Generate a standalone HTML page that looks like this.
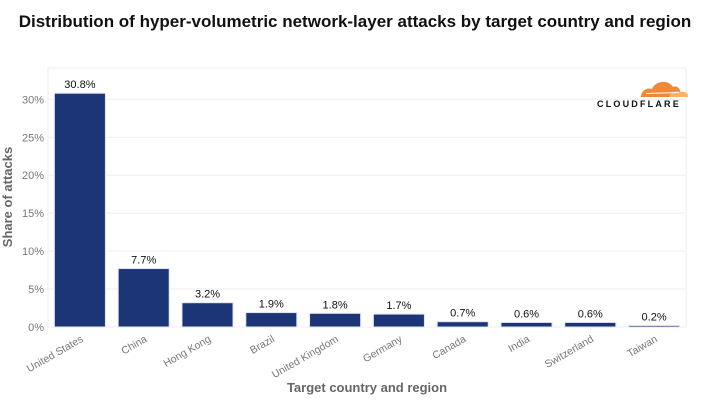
<!DOCTYPE html>
<html><head><meta charset="utf-8"><style>
body{margin:0;background:#fff;font-family:"Liberation Sans",sans-serif;}
svg text{font-family:"Liberation Sans",sans-serif;}
</style></head><body>
<svg width="711" height="400" xmlns="http://www.w3.org/2000/svg">
<text x="355" y="27" text-anchor="middle" font-size="17" font-weight="bold" fill="#111">Distribution of hyper-volumetric network-layer attacks by target country and region</text>
<g id="grid"></g>
<g id="yt"></g>
<g id="bars"></g>
<g id="xt"></g>
<text transform="translate(12,197) rotate(-90)" text-anchor="middle" font-size="13" font-weight="bold" fill="#666">Share of attacks</text>
<text x="367" y="392" text-anchor="middle" font-size="13" font-weight="bold" fill="#666">Target country and region</text>
<g>
<path d="M641 97 C641 91 647 87 652 89 C655 81 668 79 673 87 C677 85 681 89 680 93 C682 93 683 95 681 97 Z" fill="#f0883a"/>
<path d="M669 97 C670 92 677 90 681 92 C685 91 689 94 688 97 Z" fill="#f6b26b"/>
<line x1="646" y1="93.5" x2="679" y2="92.5" stroke="#fff" stroke-width="1"/>
<text x="597" y="107" font-size="9" font-weight="bold" fill="#111" letter-spacing="1.3" textLength="83">CLOUDFLARE</text>
</g>
</svg>
<script>
const categories=["United States","China","Hong Kong","Brazil","United Kingdom","Germany","Canada","India","Switzerland","Taiwan"];
const values=[30.8,7.7,3.2,1.9,1.8,1.7,0.7,0.6,0.6,0.2];
const valueLabels=["30.8%","7.7%","3.2%","1.9%","1.8%","1.7%","0.7%","0.6%","0.6%","0.2%"];
const yTicks=[0,5,10,15,20,25,30];
const yTickLabels=["0%","5%","10%","15%","20%","25%","30%"];
const NS="http://www.w3.org/2000/svg";
const L=48,R=686,T=68,B=327;
const y=v=>B-v*(B-99.3)/30;
const step=(R-L)/categories.length;
const x=i=>L+i*step;
function mk(t,a,p){const e=document.createElementNS(NS,t);for(const k in a)e.setAttribute(k,a[k]);p.appendChild(e);return e;}
const grid=document.getElementById('grid'),yt=document.getElementById('yt'),bars=document.getElementById('bars'),xt=document.getElementById('xt');
const fr=mk('rect',{x:L,y:T,width:R-L,height:B-T,fill:'none',stroke:'#eee'},grid);


yTicks.forEach((v,i)=>{
 const g=mk('line',{x1:L,x2:R,y1:y(v),y2:y(v),stroke:'#eee'},grid);
 
 
 const t=mk('text',{x:44,y:y(v)+4,'text-anchor':'end','font-size':'11',fill:'#777'},yt);
 
 
 t.textContent=yTickLabels[i];
});
categories.forEach((c,i)=>{
 const bw=step*0.8,bx=x(i)+step*0.1;
 const r=mk('rect',{x:bx,y:y(values[i]),width:bw,height:B-y(values[i]),fill:'#1c3577',stroke:'#dfe4ef','stroke-width':'1'},bars);
 
 
 const l=mk('text',{x:bx+bw/2,y:y(values[i])-5,'text-anchor':'middle','font-size':'11',fill:'#111'},bars);
 
 
 l.textContent=valueLabels[i];
 const cx=bx+bw/2+4;
 const t=mk('text',{x:cx,y:B+14,'text-anchor':'end','font-size':'10.5',fill:'#777',transform:`rotate(-30 ${cx} ${B+14})`},xt);
 
 
 t.textContent=c;
});
</script>
</body></html>
